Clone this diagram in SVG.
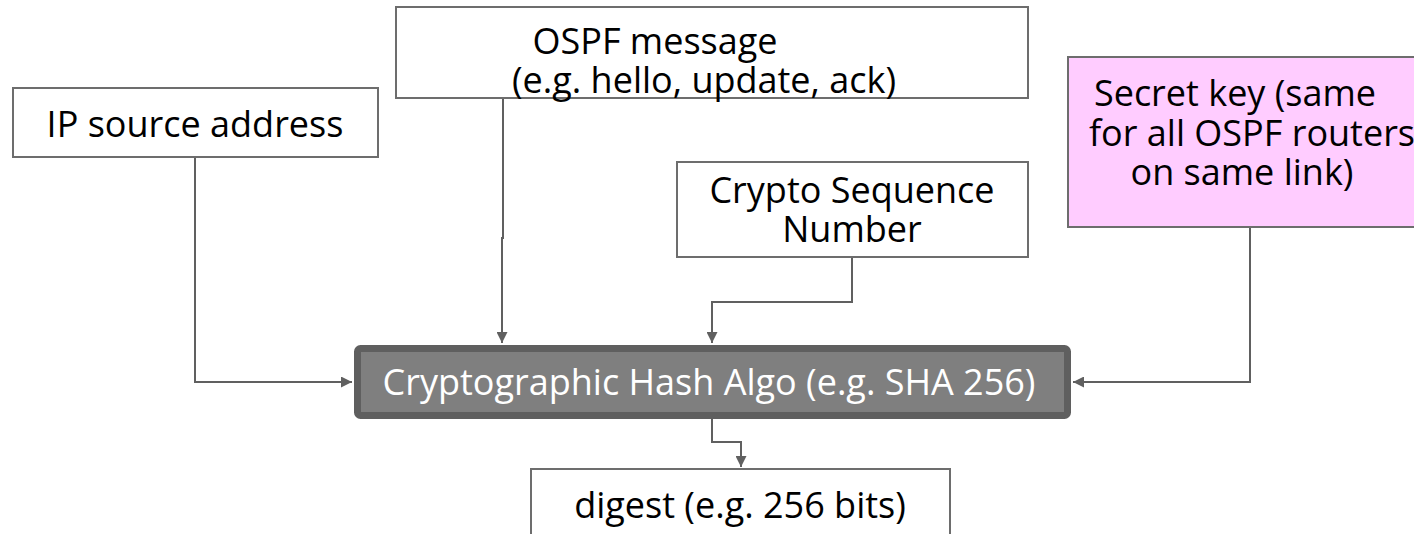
<svg xmlns="http://www.w3.org/2000/svg" width="1414" height="534" viewBox="0 0 1414 534">
<style>
.box{fill:#ffffff;stroke:#6d6d6d;stroke-width:2}
.t{font-family:"Open Sans",Lato,"Liberation Sans",sans-serif;font-size:36px;fill:#000;text-anchor:middle}
.w{fill:#ffffff}
.c{fill:none;stroke:#606060;stroke-width:2}
</style>
<defs>
<marker id="ah" viewBox="0 0 10 10" refX="10" refY="5" markerWidth="5.5" markerHeight="5.5" orient="auto" markerUnits="strokeWidth">
<path d="M0,0 L10,5 L0,10 z" fill="#606060"/>
</marker>
</defs>
<rect width="1414" height="534" fill="#ffffff"/>
<g id="connectors">
<path class="c" d="M195,157 V382 H352" marker-end="url(#ah)"/>
<path class="c" d="M503,98 V238 H502 V343" marker-end="url(#ah)"/>
<path class="c" d="M852,257 V302 H712 V343" marker-end="url(#ah)"/>
<path class="c" d="M1250,227 V382 H1073" marker-end="url(#ah)"/>
<path class="c" d="M712,419 V442 H741 V467" marker-end="url(#ah)"/>
</g>
<g id="ip">
<rect class="box" x="13" y="88" width="365" height="69"/>
<text class="t" x="195" y="137">IP source address</text>
</g>
<g id="ospf">
<rect class="box" x="396" y="7" width="632" height="91"/>
<text class="t" x="655" y="54">OSPF message</text>
<text class="t" x="704" y="93">(e.g. hello, update, ack)</text>
</g>
<g id="seq">
<rect class="box" x="677" y="162" width="351" height="95"/>
<text class="t" x="852" y="203">Crypto Sequence</text>
<text class="t" x="852" y="242">Number</text>
</g>
<g id="key">
<rect class="box" x="1068" y="57" width="360" height="170" style="fill:#ffccff"/>
<text class="t" x="1235" y="106">Secret key (same</text>
<text class="t" x="1252" y="146">for all OSPF routers</text>
<text class="t" x="1242" y="185">on same link)</text>
</g>
<g id="hash">
<rect x="357.5" y="348.5" width="710" height="67" rx="3" fill="#7f7f7f" stroke="#5f5f5f" stroke-width="7"/>
<text class="t w" x="709" y="395">Cryptographic Hash Algo (e.g. SHA 256)</text>
</g>
<g id="digest">
<rect class="box" x="531" y="469" width="419" height="80"/>
<text class="t" x="740" y="518">digest (e.g. 256 bits)</text>
</g>
</svg>
